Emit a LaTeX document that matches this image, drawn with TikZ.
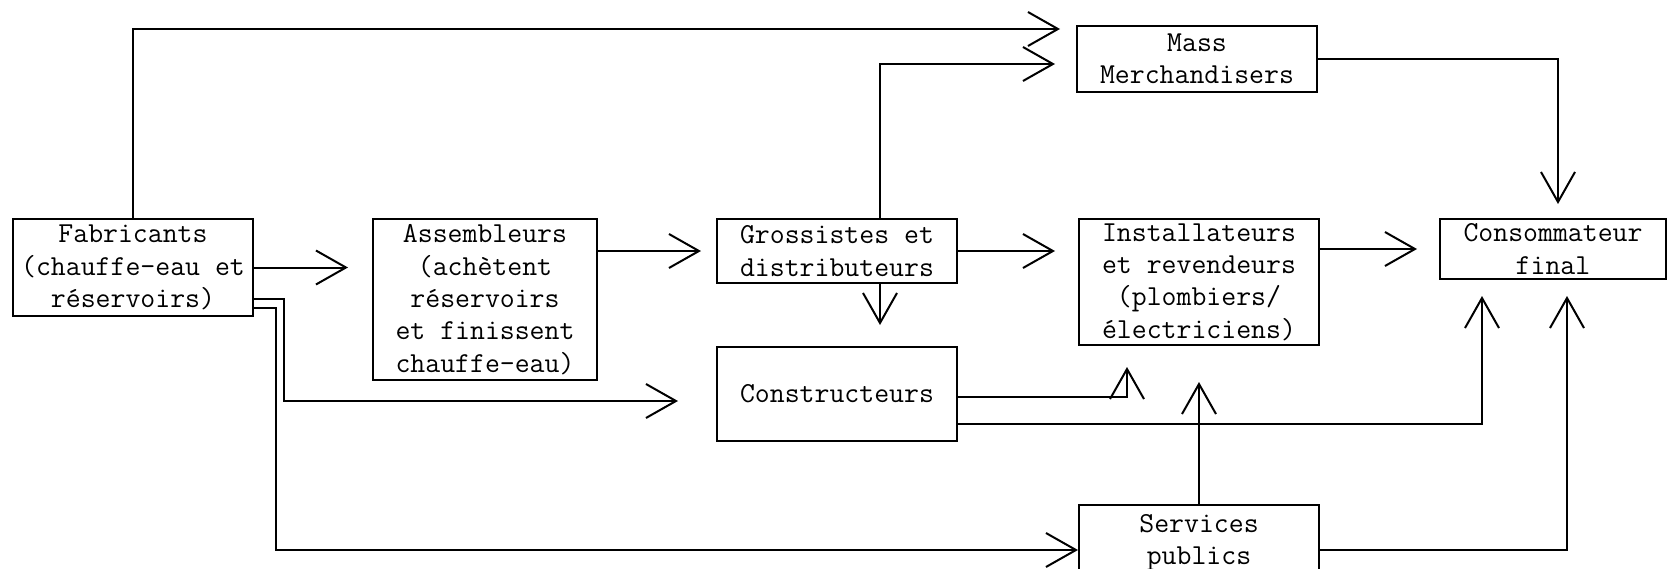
\documentclass[tikz,border=0pt]{standalone}
\usepackage{fontspec}
\usetikzlibrary{arrows.meta}
\tikzset{bx/.style={draw, rectangle, align=center, inner sep=0pt, font=\ttfamily\fontsize{20.6pt}{23pt}\selectfont}}
\tikzset{ar/.style={-{Straight Barb[length=7.5mm,width=8.5mm]}}}

\begin{document}
\begin{tikzpicture}[x=0.25mm, y=-0.25mm, line width=0.5mm]
\useasboundingbox (0,0) rectangle (1672,569);
\node[bx, minimum width=60mm, minimum height=24.25mm] (fab) at (133,267.5) {Fabricants\\(chauffe-eau et\\réservoirs)};
\node[bx, minimum width=56mm, minimum height=40.25mm] (asm) at (485,299.5) {Assembleurs\\(achètent\\réservoirs\\et finissent\\chauffe-eau)};
\node[bx, minimum width=60mm, minimum height=16mm] (gro) at (837,251) {Grossistes et\\distributeurs};
\node[bx, minimum width=60mm, minimum height=23.5mm] (con) at (837,394) {Constructeurs};
\node[bx, minimum width=60mm, minimum height=16.5mm] (mass) at (1197,59) {Mass\\Merchandisers};
\node[bx, minimum width=60mm, minimum height=31.5mm] (inst) at (1199,282) {Installateurs\\et revendeurs\\(plombiers/\\électriciens)};
\node[bx, minimum width=60mm, minimum height=18.75mm] (serv) at (1199,542.5) {Services\\publics};
\node[bx, minimum width=56.5mm, minimum height=15mm] (cons) at (1553,249) {Consommateur\\final};

\draw[ar, shorten >=4mm] (fab.north) |- ([yshift=7.5mm]mass.west);
\draw[ar, shorten >=5.25mm] ([xshift=10.75mm]gro.north) |- ([yshift=-1.25mm]mass.west);
\draw[ar, shorten >=6mm] (fab.east) -- (fab.east -| asm.west);
\draw[ar, shorten >=3.75mm] (gro.west -| asm.east) -- (gro.west);
\draw[ar, shorten >=5.75mm] (gro.east) -- (gro.east -| inst.west);
\draw[ar, shorten >=5.5mm] (inst.east |- cons.west) -- (cons.west);
\draw[ar, shorten >=5.25mm] ([xshift=10.75mm]gro.south) -- ([xshift=10.75mm]con.north);
\draw[ar, shorten >=3.5mm] (mass.east) -| ([xshift=1.25mm]cons.north);
\draw[ar, shorten >=5.25mm] ([yshift=-0.75mm]con.east) -| ([xshift=-18mm]inst.south);
\draw[ar, shorten >=4mm] ([yshift=-7.5mm]con.east) -| ([xshift=-17.75mm]cons.south);
\draw[ar, shorten >=9mm] (serv.north) -- (inst.south);
\draw[ar, shorten >=4mm] (serv.east |- 0,550) -| ([xshift=3.5mm]cons.south);
\draw[ar, shorten >=9.5mm] ([yshift=-7.9mm]fab.east) -- ++(7.5mm,0) |- ([yshift=-1.75mm]con.west);
\draw[ar] ([yshift=-10.1mm]fab.east) -- ++(5.5mm,0) |- (serv.west |- 0,550);
\end{tikzpicture}
\end{document}
